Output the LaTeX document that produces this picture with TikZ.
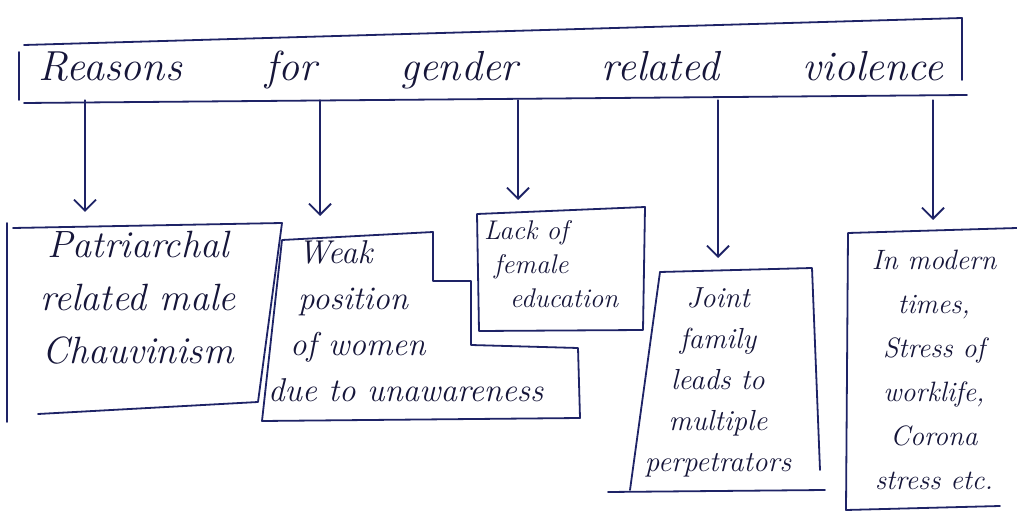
\documentclass[tikz,border=0pt]{standalone}
\usetikzlibrary{arrows.meta}
\definecolor{ink}{HTML}{1E2366}
\definecolor{txt}{HTML}{16163A}
\begin{document}
\begin{tikzpicture}[x=1pt,y=-1pt,
  inkline/.style={draw=ink,line width=1.8pt,line cap=round,line join=round},
  arr/.style={inkline,-{Straight Barb[length=11pt,width=22pt]}},
  lbl/.style={text=txt,inner sep=0pt,font=\itshape}]
\useasboundingbox (0,0) rectangle (1017,518);
\fill[white] (0,0) rectangle (1017,518);
% title
\node[minimum width=944pt,minimum height=60pt,inner sep=0pt,text=txt] (title) at (491,70)
  {\fontsize{42}{46}\selectfont\itshape\makebox[905pt]{Reasons\hfill for\hfill gender\hfill related\hfill violence}};
\draw[inkline] (19,52) -- (19,100);
\draw[inkline] (24,45) -- (962,18) -- (962,80);
\draw[inkline] (24,103) -- (967,95);
% arrow tips
\coordinate (a1) at (85,212);
\coordinate (a2) at (320,216);
\coordinate (a3) at (518,200);
\coordinate (a4) at (718,258);
\coordinate (a5) at (933,220);
\foreach \i in {1,...,5} \draw[arr] (title.south -| a\i) -- (a\i);
% box 1
\draw[inkline] (7,223) -- (7,422);
\draw[inkline] (13,228) -- (282,223) -- (258,402) -- (38,414);
\node[lbl,align=center,font=\fontsize{38}{53}\selectfont\itshape] (b1) at (138,298)
  {Patriarchal\\related male\\Chauvinism};
% box 2
\draw[inkline] (282,240) -- (433,232) -- (433,281) -- (471,281) -- (471,345) -- (578,348) -- (580,418) -- (262,421) -- (282,240);
\node[lbl,align=left,anchor=north west,font=\fontsize{33}{46}\selectfont\itshape] (b2) at (268,240)
  {\hspace*{30pt}Weak\\\hspace*{30pt}position\\\hspace*{22pt}of women\\due to unawareness};
% box 3
\draw[inkline] (477,214) -- (645,207) -- (643,330) -- (479,331) -- cycle;
\node[lbl,align=left,anchor=north west,font=\fontsize{27}{34}\selectfont\itshape] (b3) at (484,220)
  {Lack of\\\hspace*{10pt}female\\\hspace*{26pt}education};
% box 4
\draw[inkline] (660,272) -- (812,268) -- (820,470);
\draw[inkline] (660,272) -- (630,490);
\draw[inkline] (608,492) -- (825,490);
\node[lbl,align=center,font=\fontsize{29}{41}\selectfont\itshape] (b4) at (718,382)
  {Joint\\family\\leads to\\multiple\\perpetrators};
% box 5
\draw[inkline] (1017,228) -- (848,233) -- (846,510) -- (1000,506);
\node[lbl,align=center,font=\fontsize{28}{44}\selectfont\itshape] (b5) at (934,370)
  {In modern\\times,\\Stress of\\worklife,\\Corona\\stress etc.};
\end{tikzpicture}
\end{document}
